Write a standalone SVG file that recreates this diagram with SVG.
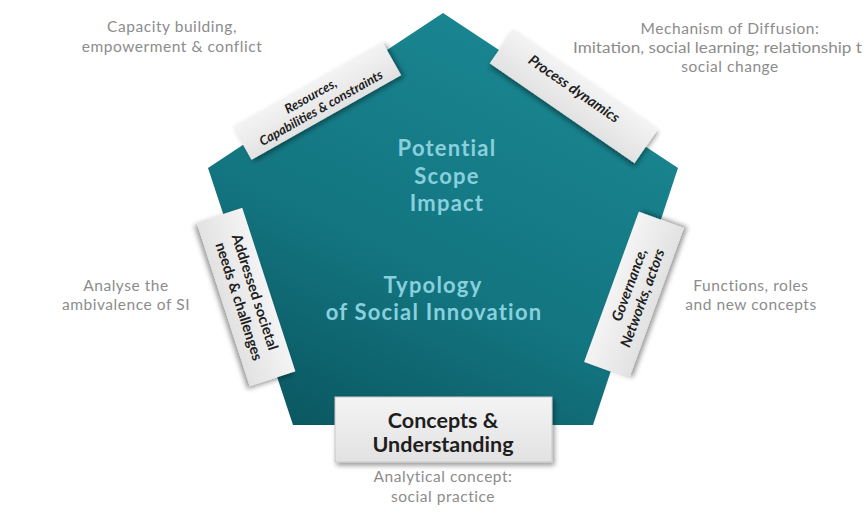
<svg xmlns="http://www.w3.org/2000/svg" width="867" height="517" viewBox="0 0 867 517">
<defs>
  <linearGradient id="teal" x1="0.75" y1="0" x2="0.2" y2="1">
    <stop offset="0" stop-color="#1a8893"/>
    <stop offset="0.6" stop-color="#137580"/>
    <stop offset="1" stop-color="#0a5862"/>
  </linearGradient>
  <linearGradient id="card" x1="0" y1="0" x2="0" y2="1">
    <stop offset="0" stop-color="#f4f4f4"/>
    <stop offset="1" stop-color="#e2e2e2"/>
  </linearGradient>
  <filter id="shadow" x="-20%" y="-40%" width="140%" height="180%">
    <feDropShadow dx="2" dy="3" stdDeviation="2.5" flood-color="#000" flood-opacity="0.4"/>
  </filter>
</defs>
<style>
  .note { font-family: Lato, "Liberation Sans", sans-serif; font-size: 15.5px; letter-spacing: 0.55px; fill: #8c8c8c; text-anchor: middle; }
  .inner { font-family: Lato, "Liberation Sans", sans-serif; font-size: 22px; letter-spacing: 1.2px; font-weight: bold; fill: #88d0dd; text-anchor: middle; }
  .card { fill: url(#card); filter: url(#shadow); }
  .lab { font-family: Lato, "Liberation Sans", sans-serif; font-weight: bold; fill: #1e1e1e; text-anchor: middle; }
  .it { font-style: italic; }
</style>

<g id="pentagon">
  <polygon points="443,13 678,168 593,425 293,425 208,168" fill="url(#teal)"/>
  <text class="inner" x="447" y="156">Potential</text>
  <text class="inner" x="447" y="184">Scope</text>
  <text class="inner" x="447" y="211">Impact</text>
  <text class="inner" x="433" y="293">Typology</text>
  <text class="inner" x="434" y="320">of Social Innovation</text>
</g>

<g id="connectors"></g>

<g id="resources" transform="translate(317,101) rotate(-29.5)">
  <rect class="card" x="-86" y="-19" width="172" height="38"/>
  <text class="lab it" x="-3" y="-3" font-size="13">Resources,</text>
  <text class="lab it" x="0" y="12.5" font-size="13">Capabilities &amp; constraints</text>
</g>

<g id="process" transform="translate(574,96) rotate(34.6)">
  <rect class="card" x="-88" y="-21" width="176" height="42"/>
  <text class="lab it" x="-4" y="-1" font-size="14.5">Process dynamics</text>
</g>

<g id="addressed" transform="translate(246,297) rotate(72)">
  <rect class="card" x="-86" y="-24" width="172" height="48"/>
  <text class="lab" x="-2" y="-5" font-size="14.5">Addressed societal</text>
  <text class="lab" x="2" y="13" font-size="14.5">needs &amp; challenges</text>
</g>

<g id="governance" transform="translate(634,295) rotate(-70)">
  <rect class="card" x="-80" y="-24" width="160" height="48"/>
  <text class="lab it" x="8" y="-3" font-size="14.5">Governance,</text>
  <text class="lab it" x="0" y="14" font-size="14.5">Networks, actors</text>
</g>

<g id="concepts">
  <rect class="card" x="335" y="397" width="217" height="65" stroke="#c8c8c8" stroke-width="1"/>
  <text class="lab" x="443" y="428" font-size="21.5">Concepts &amp;</text>
  <text class="lab" x="443" y="452" font-size="21.5">Understanding</text>
</g>

<g id="note-capacity">
  <text class="note" x="172" y="32">Capacity building,</text>
  <text class="note" x="172" y="52">empowerment &amp; conflict</text>
</g>
<g id="note-diffusion">
  <text class="note" x="730" y="34">Mechanism of Diffusion:</text>
  <text class="note" x="573" y="53" style="text-anchor:start;letter-spacing:0" textLength="289" lengthAdjust="spacingAndGlyphs">Imitation, social learning; relationship t</text>
  <text class="note" x="730" y="72">social change</text>
</g>
<g id="note-analyse">
  <text class="note" x="126" y="291">Analyse the</text>
  <text class="note" x="126" y="310">ambivalence of SI</text>
</g>
<g id="note-functions">
  <text class="note" x="751" y="291">Functions, roles</text>
  <text class="note" x="751" y="310">and new concepts</text>
</g>
<g id="note-analytical">
  <text class="note" x="443" y="482">Analytical concept:</text>
  <text class="note" x="443" y="502">social practice</text>
</g>
</svg>
